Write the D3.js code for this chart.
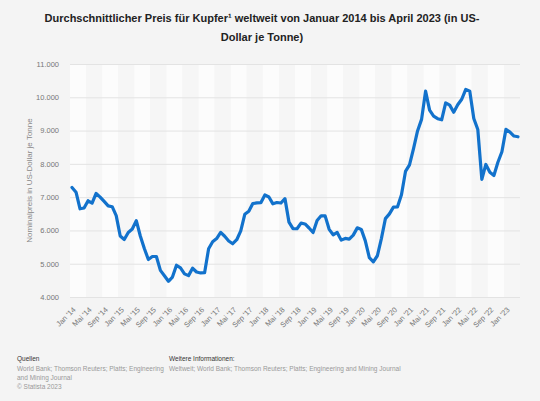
<!DOCTYPE html>
<html>
<head>
<meta charset="utf-8">
<script src="https://cdn.jsdelivr.net/npm/d3@7"></script>
<style>
  html, body { margin: 0; padding: 0; background: #f4f4f4; }
  svg { display: block; font-family: "Liberation Sans", Arial, sans-serif; }
</style>
</head>
<body>
<div id="chart"></div>
<script>
// monthly copper price, US-Dollar per tonne
var monthNames = ['Jan', 'Feb', 'Mär', 'Apr', 'Mai', 'Jun', 'Jul', 'Aug', 'Sep', 'Okt', 'Nov', 'Dez'];
var years = ['14', '15', '16', '17', '18', '19', '20', '21', '22', '23'];

var price2014 = [7291, 7149, 6650, 6674, 6891, 6821, 7113, 7002, 6872, 6737, 6713, 6446];
var price2015 = [5831, 5729, 5940, 6042, 6295, 5833, 5457, 5127, 5217, 5216, 4800, 4639];
var price2016 = [4472, 4599, 4954, 4873, 4695, 4642, 4864, 4750, 4722, 4731, 5450, 5660];
var price2017 = [5755, 5941, 5825, 5684, 5600, 5721, 5985, 6486, 6577, 6810, 6826, 6834];
var price2018 = [7066, 7006, 6799, 6838, 6823, 6955, 6249, 6052, 6051, 6219, 6194, 6073];
var price2019 = [5939, 6300, 6439, 6438, 6033, 5869, 5941, 5709, 5759, 5740, 5859, 6077];
var price2020 = [6031, 5687, 5183, 5058, 5239, 5755, 6354, 6498, 6702, 6706, 7069, 7772];
var price2021 = [7971, 8460, 8989, 9336, 10184, 9612, 9433, 9357, 9324, 9830, 9765, 9551];
var price2022 = [9776, 9941, 10238, 10183, 9361, 9032, 7532, 7982, 7746, 7651, 8049, 8365];
var price2023 = [9036, 8955, 8836, 8813];

var yTicks = [4000, 5000, 6000, 7000, 8000, 9000, 10000, 11000];
var tickLabels = ["Jan '14", "Mai '14", "Sep '14", "Jan '15", "Mai '15", "Sep '15", "Jan '16", "Mai '16", "Sep '16",
    "Jan '17", "Mai '17", "Sep '17", "Jan '18", "Mai '18", "Sep '18", "Jan '19", "Mai '19", "Sep '19",
    "Jan '20", "Mai '20", "Sep '20", "Jan '21", "Mai '21", "Sep '21", "Jan '22", "Mai '22", "Sep '22", "Jan '23"];

var prices = [].concat(price2014, price2015, price2016, price2017, price2018, price2019,
    price2020, price2021, price2022, price2023);
var months = prices.map(function (d, i) {
    return monthNames[i % 12] + " '" + years[Math.floor(i / 12)];
});
var data = prices.map(function (d, i) { return {month: months[i], value: d}; });

var width = 540, height = 401;
var plotLeft = 70, plotRight = 520, plotTop = 64, plotBottom = 297;

var de = d3.formatLocale({decimal: ',', thousands: '.', grouping: [3], currency: ['', ' $']});

var svg = d3.select('#chart').append('svg')
    .attr('width', width)
    .attr('height', height);

svg.append('rect').attr('width', width).attr('height', height).attr('fill', '#f4f4f4');

var x = d3.scaleBand().domain(months).range([plotLeft, plotRight]).padding(0);
var y = d3.scaleLinear().domain([4000, 11000]).range([plotBottom, plotTop]);
var cx = function (m) { return x(m) + x.bandwidth() / 2; };

// alternating column bands, four months each
var bandGroups = d3.range(0, months.length, 4);
svg.append('g').selectAll('rect')
    .data(bandGroups)
    .enter()
    .append('rect')
    .attr('x', function (i) { return x(months[i]); })
    .attr('y', plotTop)
    .attr('width', function (i) { return x.bandwidth() * Math.min(4, months.length - i); })
    .attr('height', plotBottom - plotTop)
    .attr('fill', function (i) { return (i / 4) % 2 === 0 ? '#fcfcfc' : '#f6f6f6'; });

// y grid + labels
var yAxis = svg.append('g')
    .attr('transform', 'translate(' + plotLeft + ',0)')
    .call(d3.axisLeft(y).tickValues(yTicks).tickSize(-(plotRight - plotLeft)).tickPadding(11)
        .tickFormat(de.format(',')));
yAxis.select('.domain').remove();
yAxis.selectAll('line').attr('stroke', '#e3e3e3');
yAxis.selectAll('text').attr('fill', '#777').style('font-size', '7.5px');

// x labels
var tickMonths = months.filter(function (m) { return tickLabels.indexOf(m) >= 0; });
var xAxis = svg.append('g')
    .attr('transform', 'translate(1,' + (plotBottom + 10) + ')')
    .call(d3.axisBottom(x).tickValues(tickMonths).tickSize(0).tickPadding(0));
xAxis.select('.domain').remove();
xAxis.selectAll('text')
    .attr('fill', '#777')
    .style('font-size', '7.5px')
    .attr('text-anchor', 'end')
    .attr('dy', '0.6em')
    .attr('transform', 'rotate(-45)');

// line
var line = d3.line()
    .x(function (d) { return cx(d.month); })
    .y(function (d) { return y(d.value); });
svg.append('path')
    .datum(data)
    .attr('d', line)
    .attr('fill', 'none')
    .attr('stroke', '#1272cc')
    .attr('stroke-width', 3.2)
    .attr('stroke-linejoin', 'round')
    .attr('stroke-linecap', 'round');

// y title
svg.append('text')
    .attr('transform', 'translate(32,' + ((plotTop + plotBottom) / 2) + ') rotate(-90)')
    .attr('text-anchor', 'middle')
    .attr('fill', '#888')
    .style('font-size', '8px')
    .text('Nominalpreis in US-Dollar je Tonne');

// title
var title = svg.append('text')
    .attr('text-anchor', 'middle')
    .attr('fill', '#222')
    .style('font-size', '11px')
    .style('font-weight', 'bold');
title.append('tspan').attr('x', 262).attr('y', 22)
    .text('Durchschnittlicher Preis für Kupfer¹ weltweit von Januar 2014 bis April 2023 (in US-');
title.append('tspan').attr('x', 262).attr('y', 41).text('Dollar je Tonne)');

// footer
var foot = svg.append('g').style('font-size', '6.5px');
foot.append('text').attr('x', 17).attr('y', 361).attr('fill', '#333').text('Quellen');
foot.append('text').attr('x', 17).attr('y', 371).attr('fill', '#999')
    .text('World Bank; Thomson Reuters; Platts; Engineering');
foot.append('text').attr('x', 17).attr('y', 380).attr('fill', '#999').text('and Mining Journal');
foot.append('text').attr('x', 17).attr('y', 389).attr('fill', '#999').text('© Statista 2023');
foot.append('text').attr('x', 169).attr('y', 361).attr('fill', '#333').text('Weitere Informationen:');
foot.append('text').attr('x', 169).attr('y', 371).attr('fill', '#999')
    .text('Weltweit; World Bank; Thomson Reuters; Platts; Engineering and Mining Journal');
</script>
</body>
</html>
